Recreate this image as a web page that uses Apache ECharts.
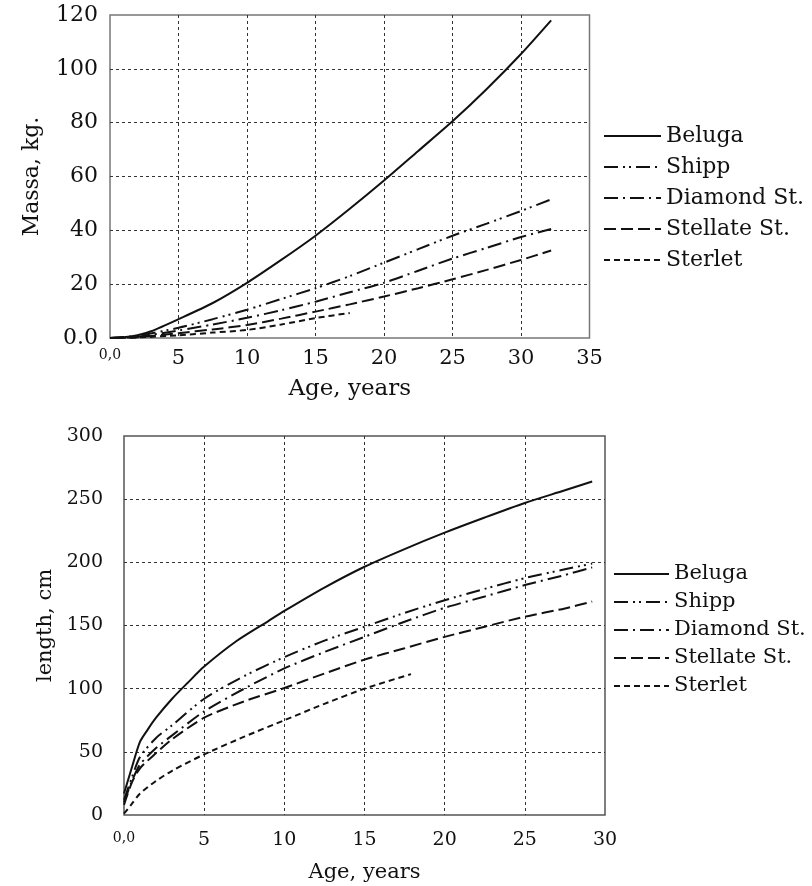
<!DOCTYPE html>
<html>
<head>
<meta charset="utf-8">
<script src="https://cdn.jsdelivr.net/npm/echarts@6/dist/echarts.min.js"></script>
<style>html,body{margin:0;padding:0;background:#fff;}#c{width:812px;height:886px;}</style>
</head>
<body>
<div id="c"></div>
<script>
// ---- Data: mass (top chart) ----
const massBelugaAge = [0,1,2,3,5,7.5,10,12.5,15,17.5,20,22.5,25,27.5,30,32.2];
const massBeluga    = [0,0.3,1,2.5,7,13,20.5,29,38,48,58.5,69.5,80.5,92.5,105.5,118];
const massAge       = [0,2,5,7.5,10,12.5,15,17.5,20,22.5,25,27.5,30,32.2];
const massShipp     = [0,0.8,3.8,7,10.5,14.5,18.5,23,28,33,38,42.5,47.2,51.5];
const massDiamond   = [0,0.5,2.8,5,7.5,10.3,13.5,17,20.5,25,29.5,33.5,37.5,40.5];
const massStellate  = [0,0.3,1.8,3.2,4.8,7.2,9.8,12.5,15.4,18.5,21.8,25.3,29,32.5];
const massSterletAge= [0,2,5,7.5,10,12.5,15,17.5];
const massSterlet   = [0,0.2,1,2,3,5,7.4,9.3];

// ---- Data: length (bottom chart) ----
const lenBelugaAge  = [0,0.5,1,1.5,2,3,4,5,7,9,10,12.5,15,17.5,20,22.5,25,27.5,29.2];
const lenBeluga     = [17,38,58,68,77,92,105,117.5,137.5,153.5,161.5,180,196.5,210.5,223.5,235.5,247,257,264];
const lenAge        = [0,0.5,1,2,3,5,7.5,10,12.5,15,17.5,20,22.5,25,27.5,29.2];
const lenShipp      = [12,30,46,61,71,92,110,125,138,149,160,170,179,187.5,194.5,199];
const lenDiamond    = [10,27,40,53,63,82,100,116,129,141,153,164,173,182,190,196];
const lenStellate   = [8,26,37,49,60,77,90,100.5,112,123,132,141,149,157,163.5,169];
const lenSterletAge = [0,0.5,1,2,3,5,7.5,10,12.5,15,17.9];
const lenSterlet    = [1,9,17,27,35,48,62,75,88,100,111.5];

const names = ['Beluga','Shipp','Diamond St.','Stellate St.','Sterlet'];
const massXTicks = [0,5,10,15,20,25,30,35];
const massYTicks = [0,20,40,60,80,100,120];
const lenXTicks = [0,5,10,15,20,25,30];
const lenYTicks = [0,50,100,150,200,250,300];

const FONT = '"DejaVu Serif", "Liberation Serif", serif';
const dashes = {
  'Beluga': 'solid',
  'Shipp': [14,5,2,4,2,5],
  'Diamond St.': [14,5,2,5],
  'Stellate St.': [12,5],
  'Sterlet': [6,4]
};

function zip(xs, ys){ return xs.map((x,i)=>[x, ys[i]]); }
function mk(name, xs, ys, idx){
  return {
    name: name, type: 'line', xAxisIndex: idx, yAxisIndex: idx,
    data: zip(xs, ys), symbol: 'none', smooth: 0.25,
    lineStyle: { color: '#111', width: 2, type: dashes[name] },
    itemStyle: { color: '#111' },
    z: 5
  };
}

const chart = echarts.init(document.getElementById('c'), null, {renderer: 'canvas'});
const gridLine = { show: true, showMinLine: false, showMaxLine: false, lineStyle: { color: '#333', width: 1, type: [3,3] } };
const legendItemStyle = { color: 'rgba(0,0,0,0)', borderColor: 'rgba(0,0,0,0)', borderWidth: 0, opacity: 0 };

chart.setOption({
  animation: false,
  backgroundColor: '#fff',
  textStyle: { fontFamily: FONT, color: '#111' },
  grid: [
    { left: 110, top: 15, width: 479.5, height: 323, show: true, borderColor: '#777', borderWidth: 1.5, backgroundColor: 'transparent' },
    { left: 124, top: 436, width: 481, height: 379, show: true, borderColor: '#555', borderWidth: 1.5, backgroundColor: 'transparent' }
  ],
  xAxis: [
    { gridIndex: 0, type: 'value', min: massXTicks[0], max: massXTicks[massXTicks.length-1], interval: 5,
      axisLine: { show: false }, axisTick: { show: false }, splitLine: gridLine,
      axisLabel: { margin: 10, fontFamily: FONT, fontSize: 21, color: '#111',
        formatter: v => v === 0 ? '{s|0,0}' : String(v), rich: { s: { fontFamily: FONT, fontSize: 14, color: '#111' } } },
      name: 'Age, years', nameLocation: 'middle', nameGap: 40, nameTextStyle: { fontFamily: FONT, fontSize: 23, color: '#111' } },
    { gridIndex: 1, type: 'value', min: lenXTicks[0], max: lenXTicks[lenXTicks.length-1], interval: 5,
      axisLine: { show: false }, axisTick: { show: false }, splitLine: gridLine,
      axisLabel: { margin: 16, fontFamily: FONT, fontSize: 19, color: '#111',
        formatter: v => v === 0 ? '{s|0,0}' : String(v), rich: { s: { fontFamily: FONT, fontSize: 14, color: '#111' } } },
      name: 'Age, years', nameLocation: 'middle', nameGap: 47, nameTextStyle: { fontFamily: FONT, fontSize: 21, color: '#111' } }
  ],
  yAxis: [
    { gridIndex: 0, type: 'value', min: massYTicks[0], max: massYTicks[massYTicks.length-1], interval: 20,
      axisLine: { show: false }, axisTick: { show: false }, splitLine: gridLine,
      axisLabel: { margin: 12, fontFamily: FONT, fontSize: 22, color: '#111', formatter: v => v === 0 ? '0.0' : String(v) },
      name: 'Massa, kg.', nameLocation: 'middle', nameGap: 67, nameTextStyle: { fontFamily: FONT, fontSize: 22, color: '#111' } },
    { gridIndex: 1, type: 'value', min: lenYTicks[0], max: lenYTicks[lenYTicks.length-1], interval: 50,
      axisLine: { show: false }, axisTick: { show: false }, splitLine: gridLine,
      axisLabel: { margin: 21, fontFamily: FONT, fontSize: 19, color: '#111' },
      name: 'length, cm', nameLocation: 'middle', nameGap: 67, nameTextStyle: { fontFamily: FONT, fontSize: 21, color: '#111' } }
  ],
  legend: [
    { data: names, orient: 'vertical', left: 603, top: 123, padding: 0, itemWidth: 57, itemHeight: 14, itemGap: 5,
      selectedMode: false, itemStyle: legendItemStyle,
      textStyle: { fontFamily: FONT, fontSize: 22, lineHeight: 26, color: '#111' } },
    { data: names, orient: 'vertical', left: 613, top: 562, padding: 0, itemWidth: 55, itemHeight: 14, itemGap: 4,
      selectedMode: false, itemStyle: legendItemStyle,
      textStyle: { fontFamily: FONT, fontSize: 21, lineHeight: 24, color: '#111' } }
  ],
  series: [
    mk('Beluga', massBelugaAge, massBeluga, 0),
    mk('Shipp', massAge, massShipp, 0),
    mk('Diamond St.', massAge, massDiamond, 0),
    mk('Stellate St.', massAge, massStellate, 0),
    mk('Sterlet', massSterletAge, massSterlet, 0),
    mk('Beluga', lenBelugaAge, lenBeluga, 1),
    mk('Shipp', lenAge, lenShipp, 1),
    mk('Diamond St.', lenAge, lenDiamond, 1),
    mk('Stellate St.', lenAge, lenStellate, 1),
    mk('Sterlet', lenSterletAge, lenSterlet, 1)
  ]
});
</script>
</body>
</html>
